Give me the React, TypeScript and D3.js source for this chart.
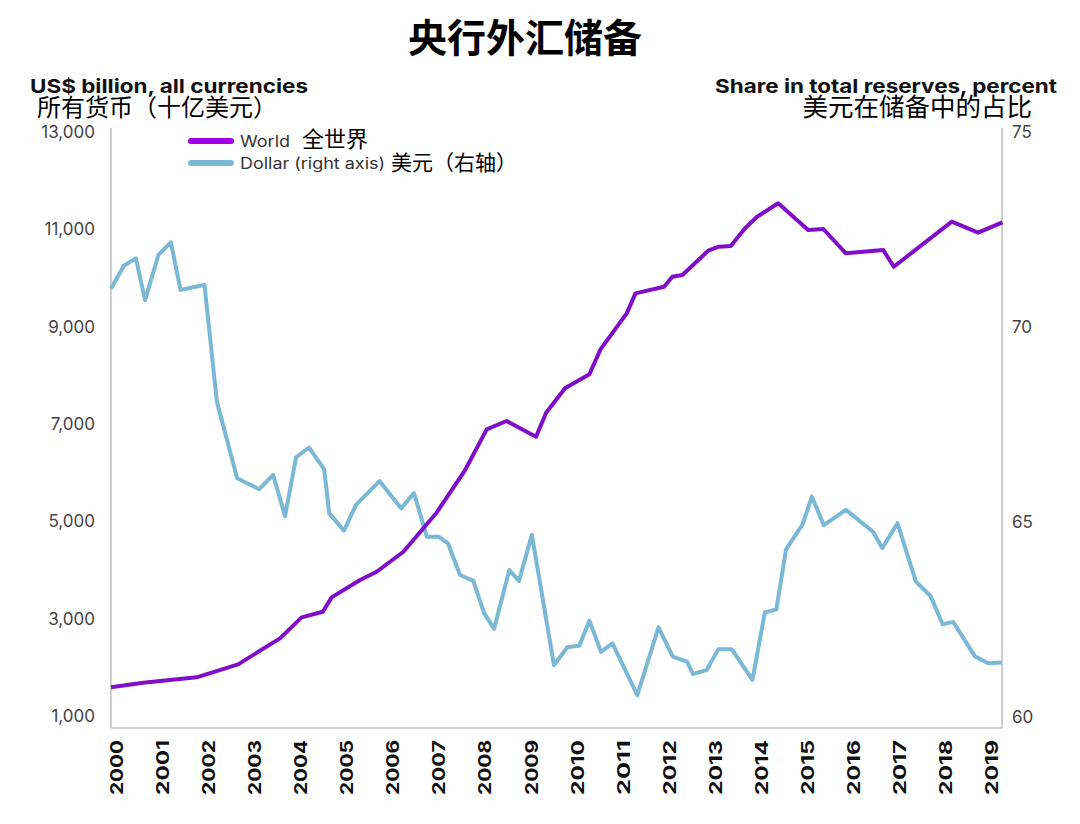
import { useEffect } from "react";
import * as d3 from "d3";

// World reserves, US$ billion: [decimal year, value]
const worldSeries: [number, number][] = [
  [2000.0, 1589], [2000.7, 1683], [2001.86, 1794], [2002.76, 2061], [2003.67, 2596],
  [2004.14, 3027], [2004.6, 3142], [2004.79, 3438], [2005.41, 3794], [2005.77, 3964],
  [2006.35, 4375], [2007.07, 5177], [2007.69, 6054], [2008.16, 6890], [2008.59, 7061],
  [2009.23, 6738], [2009.45, 7232], [2009.86, 7733], [2010.39, 8021], [2010.63, 8534],
  [2011.2, 9274], [2011.39, 9685], [2012.01, 9821], [2012.19, 10026], [2012.41, 10061],
  [2012.97, 10561], [2013.2, 10643], [2013.46, 10657], [2013.77, 11021], [2014.03, 11259],
  [2014.49, 11535], [2015.14, 10986], [2015.47, 11007], [2015.96, 10507], [2016.77, 10575],
  [2017.0, 10232], [2018.26, 11157], [2018.83, 10931], [2019.36, 11144],
];

// Dollar share in total reserves, percent: [decimal year, value]
const dollarSeries: [number, number][] = [
  [2000.0, 70.99], [2000.28, 71.57], [2000.54, 71.76], [2000.74, 70.69], [2001.03, 71.85],
  [2001.3, 72.17], [2001.51, 70.95], [2002.03, 71.08], [2002.3, 68.08], [2002.74, 66.12],
  [2003.22, 65.84], [2003.52, 66.21], [2003.78, 65.15], [2004.02, 66.66], [2004.3, 66.91],
  [2004.63, 66.35], [2004.74, 65.22], [2005.06, 64.78], [2005.32, 65.44], [2005.83, 66.05],
  [2006.3, 65.35], [2006.58, 65.74], [2006.86, 64.62], [2007.12, 64.62], [2007.32, 64.45],
  [2007.58, 63.64], [2007.87, 63.49], [2008.1, 62.67], [2008.32, 62.26], [2008.65, 63.77],
  [2008.86, 63.49], [2009.14, 64.67], [2009.62, 61.33], [2009.91, 61.79], [2010.17, 61.83],
  [2010.39, 62.47], [2010.64, 61.67], [2010.89, 61.89], [2011.43, 60.56], [2011.89, 62.3],
  [2012.2, 61.55], [2012.51, 61.42], [2012.64, 61.1], [2012.94, 61.21], [2013.19, 61.74],
  [2013.48, 61.74], [2013.93, 60.95], [2014.2, 62.68], [2014.45, 62.76], [2014.66, 64.3],
  [2015.02, 64.94], [2015.22, 65.65], [2015.48, 64.92], [2015.96, 65.31], [2016.55, 64.75],
  [2016.75, 64.33], [2017.08, 64.97], [2017.48, 63.47], [2017.8, 63.1], [2018.06, 62.38],
  [2018.29, 62.44], [2018.76, 61.56], [2019.05, 61.38], [2019.34, 61.4],
];

const years = d3.range(2000, 2020);
const leftTicks = [1000, 3000, 5000, 7000, 9000, 11000, 13000];
const rightTicks = [60, 65, 70, 75];

const WORLD_COLOR = "#800ec8";
const DOLLAR_COLOR = "#7ab8d6";
const CJK = "'Noto Sans CJK SC', sans-serif";
const LATIN = "Inter, 'Liberation Sans', Arial, sans-serif";

export default function App() {
  useEffect(() => {
    document.body.style.margin = "0";
  }, []);

  const left = 111;
  const right = 1002;
  const top = 128;
  const bottom = 728;

  const x = d3.scaleLinear().domain([2000, 2019.35]).range([left, right]);
  const yL = d3.scaleLinear().domain([1000, 13000]).range([716, 132]);
  const yR = d3.scaleLinear().domain([60, 75]).range([717, 132]);

  const worldLine = d3
    .line<[number, number]>()
    .x((d) => x(d[0]))
    .y((d) => yL(d[1]));
  const dollarLine = d3
    .line<[number, number]>()
    .x((d) => x(d[0]))
    .y((d) => yR(d[1]));

  return (
    <svg width={1080} height={824} style={{ display: "block", background: "#fff" }}>
      <text x={525} y={52} textAnchor="middle" fontFamily={CJK} fontWeight={700} fontSize={39} fill="#000">
        央行外汇储备
      </text>

      <text x={30} y={93} fontFamily={LATIN} fontWeight={700} fontSize={19} fill="#111"
        textLength={278} lengthAdjust="spacingAndGlyphs">
        US$ billion, all currencies
      </text>
      <text x={37} y={116} fontFamily={CJK} fontSize={24} fill="#000">
        所有货币（十亿美元）
      </text>
      <text x={715} y={93} fontFamily={LATIN} fontWeight={700} fontSize={19} fill="#111"
        textLength={342} lengthAdjust="spacingAndGlyphs">
        Share in total reserves, percent
      </text>
      <text x={1032} y={116} textAnchor="end" fontFamily={CJK} fontSize={25.5} fill="#000">
        美元在储备中的占比
      </text>

      {/* frame */}
      <line x1={left} x2={left} y1={top} y2={bottom} stroke="#cfcfcf" strokeWidth={2} />
      <line x1={right} x2={right} y1={top} y2={bottom} stroke="#cfcfcf" strokeWidth={2} />
      <line x1={left} x2={right} y1={bottom} y2={bottom} stroke="#cfcfcf" strokeWidth={2} />

      {leftTicks.map((t) => (
        <text key={t} x={95} y={yL(t)} dy="0.36em" textAnchor="end" fontFamily={LATIN} fontSize={17} fill="#444">
          {d3.format(",")(t)}
        </text>
      ))}
      {rightTicks.map((t) => (
        <text key={t} x={1012} y={yR(t)} dy="0.36em" fontFamily={LATIN} fontSize={17} fill="#444">
          {t}
        </text>
      ))}

      {years.map((yr) => {
        const cx = x(yr) + 6;
        return (
          <text
            key={yr}
            x={0}
            y={0}
            transform={`translate(${cx},795) rotate(-90)`}
            dy="0.36em"
            fontFamily={LATIN}
            fontWeight={700}
            fontSize={17}
            fill="#111"
            textLength={55}
            lengthAdjust="spacingAndGlyphs"
          >
            {yr}
          </text>
        );
      })}

      <path d={dollarLine(dollarSeries) ?? ""} fill="none" stroke={DOLLAR_COLOR} strokeWidth={4} strokeLinejoin="round" />
      <path d={worldLine(worldSeries) ?? ""} fill="none" stroke={WORLD_COLOR} strokeWidth={4} strokeLinejoin="round" />

      {/* legend */}
      <line x1={191} x2={231} y1={141} y2={141} stroke="#a100e6" strokeWidth={6} strokeLinecap="round" />
      <text x={240} y={141} dy="0.36em" fontFamily={LATIN} fontSize={16} fill="#333"
        textLength={50} lengthAdjust="spacingAndGlyphs">
        World
      </text>
      <text x={302} y={139} dy="0.36em" fontFamily={CJK} fontSize={22} fill="#000">
        全世界
      </text>
      <line x1={191} x2={231} y1={163} y2={163} stroke={DOLLAR_COLOR} strokeWidth={6} strokeLinecap="round" />
      <text x={240} y={163} dy="0.36em" fontFamily={LATIN} fontSize={16} fill="#333"
        textLength={145} lengthAdjust="spacingAndGlyphs">
        Dollar (right axis)
      </text>
      <text x={391} y={162} dy="0.36em" fontFamily={CJK} fontSize={21} fill="#000">
        美元（右轴）
      </text>
    </svg>
  );
}
